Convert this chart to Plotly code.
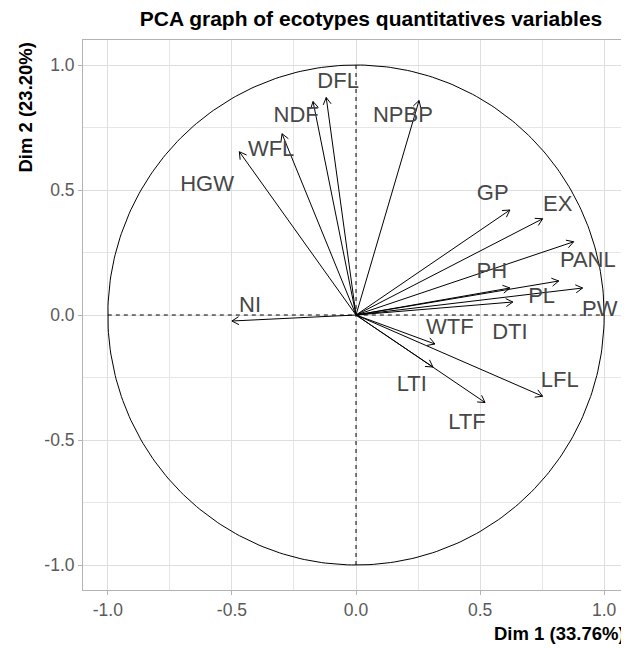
import numpy as np
import plotly.graph_objects as go

# ---- data ----
variables = ["DFL", "NDF", "NPBP", "WFL", "HGW", "GP", "EX", "PANL", "PH", "PL",
             "PW", "DTI", "WTF", "LTI", "LTF", "LFL", "NI"]
dim1 = [-0.120, -0.173, 0.254, -0.298, -0.470, 0.620, 0.752, 0.877, 0.620, 0.817,
        0.913, 0.632, 0.318, 0.310, 0.520, 0.752, -0.500]
dim2 = [0.870, 0.854, 0.858, 0.725, 0.653, 0.420, 0.385, 0.293, 0.108, 0.136,
        0.108, 0.052, -0.116, -0.208, -0.350, -0.325, -0.024]
label_x = [-0.072, -0.241, 0.189, -0.342, -0.600, 0.551, 0.813, 0.934, 0.547, 0.748,
           0.982, 0.620, 0.378, 0.225, 0.447, 0.821, -0.427]
label_y = [0.930, 0.794, 0.794, 0.657, 0.517, 0.481, 0.437, 0.216, 0.172, 0.072,
           0.020, -0.072, -0.052, -0.281, -0.433, -0.265, 0.036]

title = "PCA graph of ecotypes quantitatives variables"
xlab = "Dim 1 (33.76%)"
ylab = "Dim 2 (23.20%)"
tick_vals = [-1.0, -0.5, 0.0, 0.5, 1.0]
tick_text = ["-1.0", "-0.5", "0.0", "0.5", "1.0"]

FONT = "Liberation Sans, Arial, sans-serif"

fig = go.Figure()

# unit circle
t = np.linspace(0, 2 * np.pi, 361)
fig.add_trace(go.Scatter(x=np.cos(t), y=np.sin(t), mode="lines",
                         line=dict(color="black", width=1), hoverinfo="skip",
                         showlegend=False))
# dashed axes
fig.add_trace(go.Scatter(x=[-1, 1, None, 0, 0], y=[0, 0, None, -1, 1], mode="lines",
                         line=dict(color="black", width=1, dash="4px,4px"),
                         hoverinfo="skip", showlegend=False))

# arrows (shafts + open heads)
head_len = 0.032
ang = np.deg2rad(30)
xs, ys = [], []
for x, y in zip(dim1, dim2):
    xs += [0, x, None]
    ys += [0, y, None]
    th = np.arctan2(y, x)
    for s in (+1, -1):
        xs += [x, x - head_len * np.cos(th + s * ang), None]
        ys += [y, y - head_len * np.sin(th + s * ang), None]
fig.add_trace(go.Scatter(x=xs, y=ys, mode="lines",
                         line=dict(color="black", width=1), hoverinfo="skip",
                         showlegend=False))

# labels
fig.add_trace(go.Scatter(x=label_x, y=label_y, mode="text", text=variables,
                         textfont=dict(family=FONT, size=22, color="#474747"),
                         hoverinfo="skip", showlegend=False))

axis_common = dict(
    range=[-1.1, 1.1], tickvals=tick_vals, ticktext=tick_text, automargin=False,
    showgrid=True, gridcolor="#dedede", gridwidth=1,
    minor=dict(dtick=0.25, tick0=0, showgrid=True, gridcolor="#e6e6e6", gridwidth=1),
    zeroline=False, showline=True, mirror=True, linecolor="#b3b3b3", linewidth=1,
    ticks="outside", ticklen=4, tickcolor="#b3b3b3",
    tickfont=dict(family=FONT, size=17.5, color="#5a5a5a"),
)

# the page body has an 8px default margin, so the figure is 8px smaller
fig.update_layout(
    width=621, height=640,
    margin=dict(l=75, r=0, t=32, b=57.5, autoexpand=False),
    plot_bgcolor="white", paper_bgcolor="white",
    xaxis=axis_common,
    yaxis=axis_common,
    title=dict(text="<b>" + title + "</b>", x=363 / 621, xanchor="center",
               y=1 - 10.5 / 640, yanchor="middle", xref="container", yref="container",
               font=dict(family=FONT, size=21, color="black")),
    annotations=[
        dict(text="<b>" + xlab + "</b>", xref="paper", yref="paper", x=0.996, y=-0.079,
             xanchor="right", yanchor="middle", showarrow=False,
             font=dict(family=FONT, size=18.5, color="black")),
        dict(text="<b>" + ylab + "</b>", xref="paper", yref="paper", x=-0.106, y=1.0,
             xanchor="center", yanchor="top", textangle=-90, showarrow=False,
             font=dict(family=FONT, size=18.5, color="black")),
    ],
)

fig.write_html("out.html")
